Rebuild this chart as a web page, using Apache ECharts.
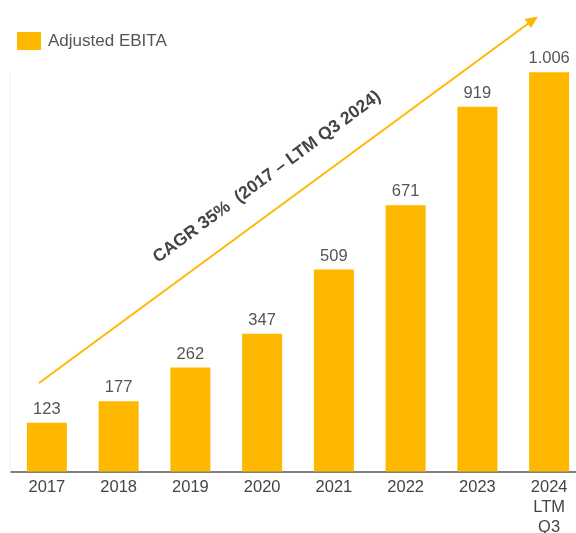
<!DOCTYPE html>
<html>
<head>
<meta charset="utf-8">
<script src="https://cdn.jsdelivr.net/npm/echarts@6/dist/echarts.min.js"></script>
<style>html,body{margin:0;padding:0;background:#fff}#c{width:576px;height:533px}</style>
</head>
<body>
<div id="c"></div>
<script>
const categories = ['2017','2018','2019','2020','2021','2022','2023','2024\nLTM\nQ3'];
const ebita = [123,177,262,347,509,671,919,1006];
const seriesName = 'Adjusted EBITA';
const cagrText = 'CAGR 35%  (2017 – LTM Q3 2024)';

const gold = '#FFB800';
const font = 'Liberation Sans, Arial, sans-serif';
const chart = echarts.init(document.getElementById('c'), null, {renderer:'canvas'});

const angle = Math.atan2(383-17, 537-39);
chart.setOption({
  animation:false,
  textStyle:{fontFamily:font},
  legend:{
    left:17, top:32, padding:0, itemWidth:24, itemHeight:18, itemGap:10,
    data:[seriesName],
    textStyle:{fontSize:17, color:'#555', fontFamily:font, padding:[0,0,0,2]},
    icon:'rect'
  },
  grid:{left:11, right:-9, top:35, bottom:61.5, outerBoundsMode:'none', containLabel:false},
  xAxis:{
    type:'category', data:categories,
    axisLine:{lineStyle:{color:'#555', width:1.5}},
    axisTick:{show:false},
    axisLabel:{fontSize:16.5, color:'#444', margin:6, lineHeight:20, fontFamily:font}
  },
  yAxis:{
    type:'value', min:0, max:1100,
    show:true,
    axisLine:{show:false},
    splitLine:{show:false},
    axisLabel:{show:false},
    axisTick:{show:false}
  },
  series:[{
    name:seriesName, type:'bar', data:ebita, barWidth:40,
    itemStyle:{color:gold},
    label:{
      show:true, position:'top', distance:5, fontSize:16.5, color:'#555', fontFamily:font,
      formatter:p => p.value >= 1000 ? Math.floor(p.value/1000) + '.' + String(p.value%1000).padStart(3,'0') : String(p.value)
    }
  }],
  graphic:[
    {type:'line', shape:{x1:10, y1:72, x2:10, y2:471}, style:{stroke:'#f0f0f0', lineWidth:1}, silent:true},
    {type:'line', shape:{x1:39, y1:383, x2:531, y2:21.5}, style:{stroke:gold, lineWidth:2}, silent:true},
    {type:'polygon', shape:{points:[[538,16.5],[524.5,19],[531,28]]}, style:{fill:gold}, silent:true},
    {type:'text', x:267, y:177, rotation:angle,
     style:{text:cagrText, fontSize:17.5, fontWeight:'bold', fill:'#444', fontFamily:font,
            align:'center', verticalAlign:'middle'}}
  ]
});
</script>
</body>
</html>
